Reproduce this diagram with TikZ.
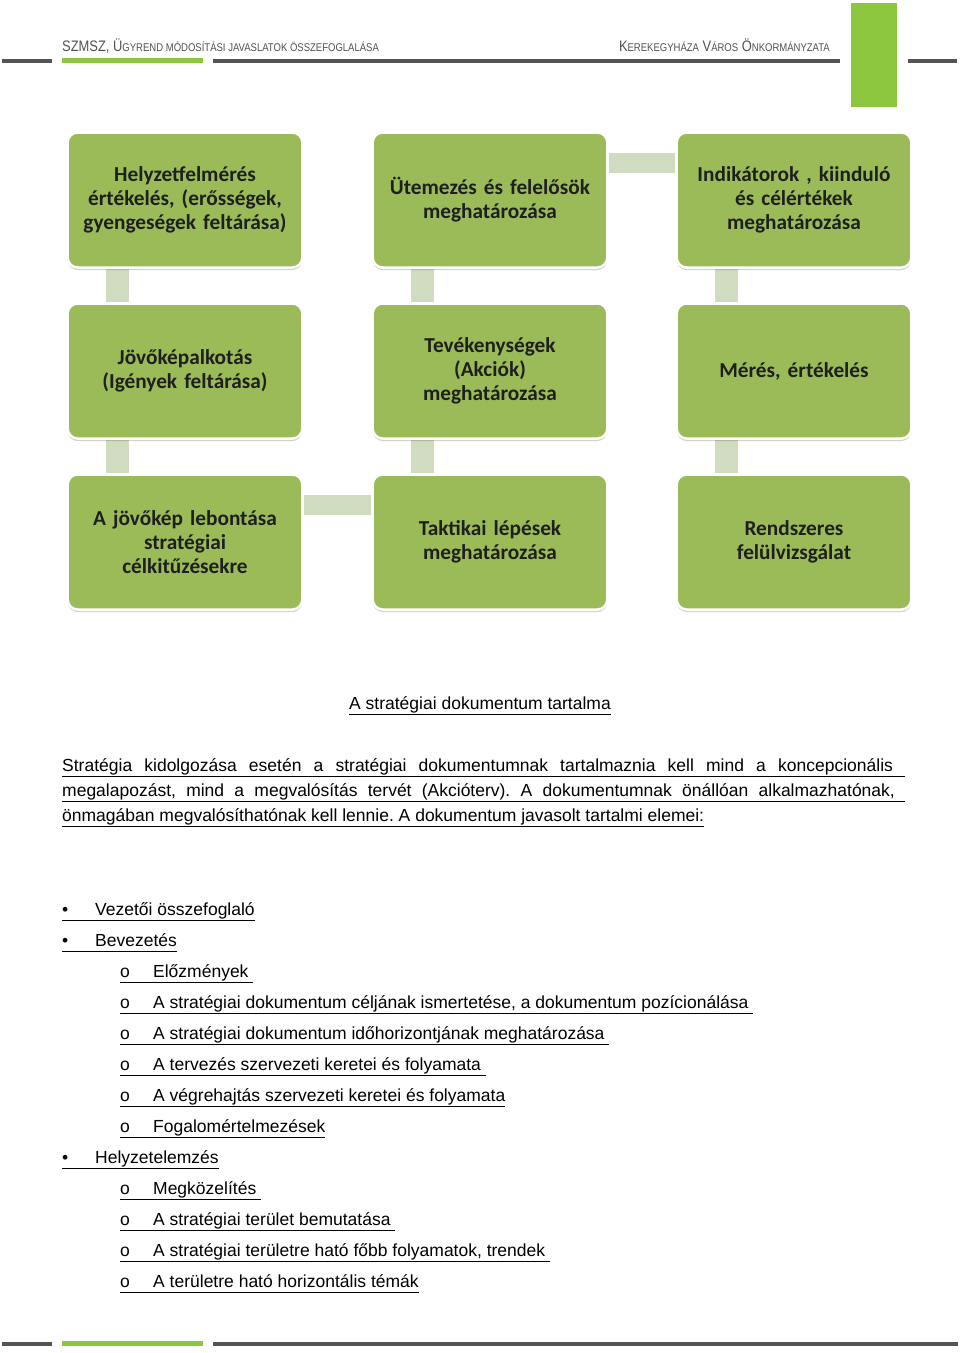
\documentclass[tikz,border=0pt]{standalone}
\usepackage{fontspec}
\setmainfont{Liberation Sans}
\newfontfamily\boxfont{Carlito}
\newfontfamily\headfont{Liberation Sans}[FakeStretch=0.85]
\usetikzlibrary{shadows,backgrounds}
\definecolor{boxgreen}{RGB}{155,187,89}
\definecolor{linkgreen}{RGB}{207,220,191}
\definecolor{bargreen}{RGB}{141,198,63}
\definecolor{bargray}{RGB}{84,84,84}
\definecolor{headgray}{RGB}{80,80,80}
\newcommand{\hsmall}[1]{{\fontsize{11.2}{13}\selectfont #1}}
\newcommand{\bul}{\makebox[33pt][l]{\textbullet}}
\newcommand{\sub}{\makebox[33pt][l]{o}}
\frenchspacing

\begin{document}
\begin{tikzpicture}[x=1pt, y=-1pt,
    stepbox/.style={draw=white, line width=2.5pt, fill=boxgreen, rounded corners=10pt,
        minimum width=229pt, minimum height=135pt, text width=228pt, align=center,
        font=\boxfont\bfseries\fontsize{21.3}{24}\selectfont, text=black!88,
        drop shadow={shadow xshift=0pt, shadow yshift=-2.5pt, opacity=0.3, fill=black!60}},
    vlink/.style={line width=23pt, draw=linkgreen},
    hlink/.style={line width=20pt, draw=linkgreen},
    head/.style={inner sep=0pt, text=headgray, font=\headfont\fontsize{15.2}{17}\selectfont},
    body/.style={anchor=base west, inner sep=0pt, font=\fontsize{17.5}{20}\selectfont}]
    \useasboundingbox (0,0) rectangle (960,1353);

    % header
    \node[head, anchor=base west] (htitle) at (62,51) {SZMSZ, Ü\hsmall{GYREND MÓDOSÍTÁSI JAVASLATOK ÖSSZEFOGLALÁSA}};
    \node[head, anchor=base east] (hcity) at (830,51) {K\hsmall{EREKEGYHÁZA} V\hsmall{ÁROS} Ö\hsmall{NKORMÁNYZATA}};
    \fill[bargray] (2,59) rectangle (52,63);
    \fill[bargreen] (62,58) rectangle (203,63);
    \fill[bargray] (213,59) rectangle (840,63);
    \fill[bargreen] (851,3) rectangle (897,107);
    \fill[bargray] (908,59) rectangle (957,63);

    % steps
    \node[stepbox] (helyzet) at (185,200) {Helyzetfelmérés\\értékelés, (erősségek,\\gyengeségek feltárása)};
    \node[stepbox] (utemezes) at (490,200) {Ütemezés és felelősök\\meghatározása};
    \node[stepbox] (indikator) at (794,200) {Indikátorok , kiinduló\\és célértékek\\meghatározása};
    \node[stepbox] (jovokep) at (185,371) {Jövőképalkotás\\(Igények feltárása)};
    \node[stepbox] (tevek) at (490,371) {Tevékenységek\\(Akciók)\\meghatározása};
    \node[stepbox] (meres) at (794,371) {Mérés, értékelés};
    \node[stepbox] (lebontas) at (185,542) {A jövőkép lebontása\\stratégiai\\célkitűzésekre};
    \node[stepbox] (taktika) at (490,542) {Taktikai lépések\\meghatározása};
    \node[stepbox] (felulvizsg) at (794,542) {Rendszeres\\felülvizsgálat};

    \begin{scope}[on background layer]
    \draw[vlink] ([xshift=-68pt]helyzet.south) -- ([xshift=-68pt]jovokep.north);
    \draw[vlink] ([xshift=-68pt]jovokep.south) -- ([xshift=-68pt]lebontas.north);
    \draw[hlink] ([yshift=37pt]lebontas.east) -- ([yshift=37pt]taktika.west);
    \draw[vlink] ([xshift=-68pt]taktika.north) -- ([xshift=-68pt]tevek.south);
    \draw[vlink] ([xshift=-68pt]tevek.north) -- ([xshift=-68pt]utemezes.south);
    \draw[hlink] ([yshift=37pt]utemezes.east) -- ([yshift=37pt]indikator.west);
    \draw[vlink] ([xshift=-68pt]indikator.south) -- ([xshift=-68pt]meres.north);
    \draw[vlink] ([xshift=-68pt]meres.south) -- ([xshift=-68pt]felulvizsg.north);
    \end{scope}

    % text
    \node[body, anchor=base] (title) at (480,709) {\underline{A stratégiai dokumentum tartalma}};
    \node[body] (par1) at (62,771) {\underline{\makebox[843pt][s]{Stratégia kidolgozása esetén a stratégiai dokumentumnak tartalmaznia kell mind a koncepcionális\ }}};
    \node[body] (par2) at (62,796) {\underline{\makebox[843pt][s]{megalapozást, mind a megvalósítás tervét (Akcióterv). A dokumentumnak önállóan alkalmazhatónak,\ }}};
    \node[body] (par3) at (62,821) {\underline{önmagában megvalósíthatónak kell lennie. A dokumentum javasolt tartalmi elemei:}};

    \node[body] (li1) at (62,915) {\underline{\vphantom{gy}\bul Vezetői összefoglaló}};
    \node[body] (li2) at (62,946) {\underline{\vphantom{gy}\bul Bevezetés}};
    \node[body] (li2a) at (120,977) {\underline{\vphantom{gy}\sub Előzmények\ }};
    \node[body] (li2b) at (120,1008) {\underline{\vphantom{gy}\sub A stratégiai dokumentum céljának ismertetése, a dokumentum pozícionálása\ }};
    \node[body] (li2c) at (120,1039) {\underline{\vphantom{gy}\sub A stratégiai dokumentum időhorizontjának meghatározása\ }};
    \node[body] (li2d) at (120,1070) {\underline{\vphantom{gy}\sub A tervezés szervezeti keretei és folyamata\ }};
    \node[body] (li2e) at (120,1101) {\underline{\vphantom{gy}\sub A végrehajtás szervezeti keretei és folyamata}};
    \node[body] (li2f) at (120,1132) {\underline{\vphantom{gy}\sub Fogalomértelmezések}};
    \node[body] (li3) at (62,1163) {\underline{\vphantom{gy}\bul Helyzetelemzés}};
    \node[body] (li3a) at (120,1194) {\underline{\vphantom{gy}\sub Megközelítés\ }};
    \node[body] (li3b) at (120,1225) {\underline{\vphantom{gy}\sub A stratégiai terület bemutatása\ }};
    \node[body] (li3c) at (120,1256) {\underline{\vphantom{gy}\sub A stratégiai területre ható főbb folyamatok, trendek\ }};
    \node[body] (li3d) at (120,1287) {\underline{\vphantom{gy}\sub A területre ható horizontális témák}};

    % footer
    \fill[bargray] (2,1342) rectangle (52,1346);
    \fill[bargreen] (62,1341) rectangle (203,1346);
    \fill[bargray] (213,1342) rectangle (958,1346);
\end{tikzpicture}
\end{document}
